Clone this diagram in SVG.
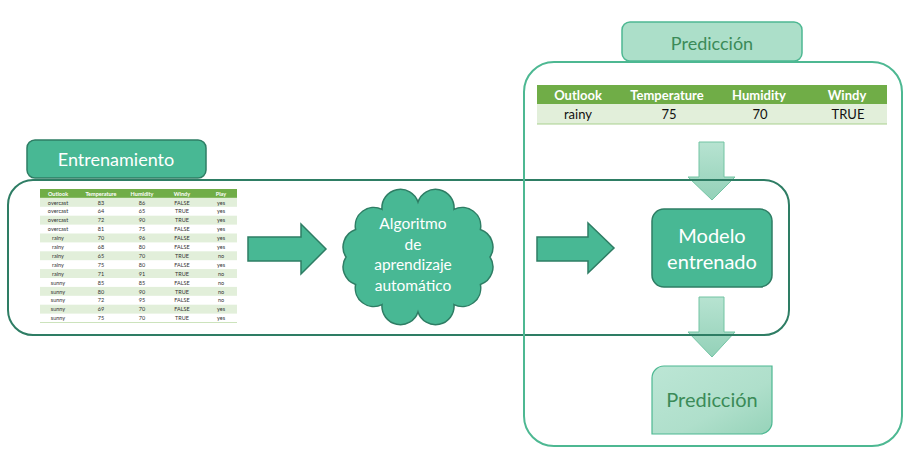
<svg xmlns="http://www.w3.org/2000/svg" width="911" height="465" viewBox="0 0 911 465">
<defs>
<style>
text{font-family:Lato,"Open Sans","Liberation Sans",sans-serif;}
.ctr{text-anchor:middle;}
.cont1{fill:none;stroke:#2e7d64;stroke-width:2;}
.cont2{fill:none;stroke:#4db892;stroke-width:2;}
.teal{fill:#48b894;stroke:#2e7d64;stroke-width:1.5;}
.lbl-w{fill:#ffffff;font-size:18px;}
.lbl-g{fill:#3b8b58;font-size:18px;}
.th{fill:#ffffff;font-weight:bold;font-size:5.5px;text-anchor:middle;}
.td{fill:#333333;font-size:5.5px;text-anchor:middle;}
.th2{fill:#ffffff;font-weight:bold;font-size:13px;text-anchor:middle;}
.td2{fill:#111111;font-size:13px;text-anchor:middle;}
.down{fill:url(#gDown);stroke:#72c4a3;stroke-width:1;}
</style>
<linearGradient id="gDown" x1="0" y1="0" x2="0" y2="1">
<stop offset="0" stop-color="#b7e3d1"/>
<stop offset="1" stop-color="#93d1b8"/>
</linearGradient>
<linearGradient id="gPred" x1="0" y1="0" x2="1" y2="1">
<stop offset="0" stop-color="#bce6d5"/>
<stop offset="0.6" stop-color="#afdfcb"/>
<stop offset="1" stop-color="#96d3b9"/>
</linearGradient>
</defs>

<g id="connectors">
<polygon class="teal" points="248,237 301,237 301,224 326,249 301,274 301,261 248,261"/>
<polygon class="teal" points="537,237 588,237 588,223 614,248 588,273 588,261 537,261"/>
<polygon class="down" points="699,142 724,142 724,177 735,177 712,200 688,177 699,177"/>
<polygon class="down" points="699,297 724,297 724,332 735,332 712,357 688,332 699,332"/>
</g>

<g id="entrenamiento-container">
<rect class="cont1" x="8" y="180" width="781" height="155" rx="25"/>
</g>

<g id="prediccion-container">
<rect class="cont2" x="524" y="62" width="378" height="384" rx="30"/>
</g>

<g id="entrenamiento-label">
<rect class="teal" x="27" y="140" width="179" height="38" rx="8"/>
<text class="lbl-w ctr" x="116" y="166">Entrenamiento</text>
</g>

<g id="prediccion-label">
<rect x="622" y="22" width="180" height="39" rx="8" fill="#acdfc9" stroke="#4db892" stroke-width="1.5"/>
<text class="lbl-g ctr" x="712" y="50">Predicción</text>
</g>

<g id="training-table">
<rect x="40" y="189" width="197" height="8.9" fill="#70ad47"/>
<rect x="40" y="197.9" width="197" height="8.9" fill="#e2efda"/>
<rect x="40" y="215.7" width="197" height="8.9" fill="#e2efda"/>
<rect x="40" y="233.5" width="197" height="8.9" fill="#e2efda"/>
<rect x="40" y="251.3" width="197" height="8.9" fill="#e2efda"/>
<rect x="40" y="269.1" width="197" height="8.9" fill="#e2efda"/>
<rect x="40" y="286.9" width="197" height="8.9" fill="#e2efda"/>
<rect x="40" y="304.7" width="197" height="8.9" fill="#e2efda"/>
<line x1="40" y1="322.5" x2="237" y2="322.5" stroke="#a9d08e" stroke-width="0.6"/>
<text class="th" x="58" y="195.6">Outlook</text><text class="th" x="101" y="195.6">Temperature</text><text class="th" x="142" y="195.6">Humidity</text><text class="th" x="182" y="195.6">Windy</text><text class="th" x="221" y="195.6">Play</text>
<text class="td" x="58" y="204.5">overcast</text><text class="td" x="101" y="204.5">83</text><text class="td" x="142" y="204.5">86</text><text class="td" x="182" y="204.5">FALSE</text><text class="td" x="221" y="204.5">yes</text>
<text class="td" x="58" y="213.4">overcast</text><text class="td" x="101" y="213.4">64</text><text class="td" x="142" y="213.4">65</text><text class="td" x="182" y="213.4">TRUE</text><text class="td" x="221" y="213.4">yes</text>
<text class="td" x="58" y="222.3">overcast</text><text class="td" x="101" y="222.3">72</text><text class="td" x="142" y="222.3">90</text><text class="td" x="182" y="222.3">TRUE</text><text class="td" x="221" y="222.3">yes</text>
<text class="td" x="58" y="231.2">overcast</text><text class="td" x="101" y="231.2">81</text><text class="td" x="142" y="231.2">75</text><text class="td" x="182" y="231.2">FALSE</text><text class="td" x="221" y="231.2">yes</text>
<text class="td" x="58" y="240.1">rainy</text><text class="td" x="101" y="240.1">70</text><text class="td" x="142" y="240.1">96</text><text class="td" x="182" y="240.1">FALSE</text><text class="td" x="221" y="240.1">yes</text>
<text class="td" x="58" y="249">rainy</text><text class="td" x="101" y="249">68</text><text class="td" x="142" y="249">80</text><text class="td" x="182" y="249">FALSE</text><text class="td" x="221" y="249">yes</text>
<text class="td" x="58" y="257.9">rainy</text><text class="td" x="101" y="257.9">65</text><text class="td" x="142" y="257.9">70</text><text class="td" x="182" y="257.9">TRUE</text><text class="td" x="221" y="257.9">no</text>
<text class="td" x="58" y="266.8">rainy</text><text class="td" x="101" y="266.8">75</text><text class="td" x="142" y="266.8">80</text><text class="td" x="182" y="266.8">FALSE</text><text class="td" x="221" y="266.8">yes</text>
<text class="td" x="58" y="275.7">rainy</text><text class="td" x="101" y="275.7">71</text><text class="td" x="142" y="275.7">91</text><text class="td" x="182" y="275.7">TRUE</text><text class="td" x="221" y="275.7">no</text>
<text class="td" x="58" y="284.6">sunny</text><text class="td" x="101" y="284.6">85</text><text class="td" x="142" y="284.6">85</text><text class="td" x="182" y="284.6">FALSE</text><text class="td" x="221" y="284.6">no</text>
<text class="td" x="58" y="293.5">sunny</text><text class="td" x="101" y="293.5">80</text><text class="td" x="142" y="293.5">90</text><text class="td" x="182" y="293.5">TRUE</text><text class="td" x="221" y="293.5">no</text>
<text class="td" x="58" y="302.4">sunny</text><text class="td" x="101" y="302.4">72</text><text class="td" x="142" y="302.4">95</text><text class="td" x="182" y="302.4">FALSE</text><text class="td" x="221" y="302.4">no</text>
<text class="td" x="58" y="311.3">sunny</text><text class="td" x="101" y="311.3">69</text><text class="td" x="142" y="311.3">70</text><text class="td" x="182" y="311.3">FALSE</text><text class="td" x="221" y="311.3">yes</text>
<text class="td" x="58" y="320.2">sunny</text><text class="td" x="101" y="320.2">75</text><text class="td" x="142" y="320.2">70</text><text class="td" x="182" y="320.2">TRUE</text><text class="td" x="221" y="320.2">yes</text>
</g>

<g id="algoritmo">
<path class="teal" d="M346,257 A18.5,18.5 0 0 1 355.6,229.5 A18.5,18.5 0 0 1 382,209.4 A18.5,18.5 0 0 1 418,202 A18.5,18.5 0 0 1 454,209.4 A18.5,18.5 0 0 1 480.4,229.5 A18.5,18.5 0 0 1 490,257 A18.5,18.5 0 0 1 480.4,284.5 A18.5,18.5 0 0 1 454,304.6 A18.5,18.5 0 0 1 418,312 A18.5,18.5 0 0 1 382,304.6 A18.5,18.5 0 0 1 355.6,284.5 A18.5,18.5 0 0 1 346,257 Z"/>
<text class="ctr" fill="#ffffff" font-size="15.5" x="413" y="229">Algoritmo</text>
<text class="ctr" fill="#ffffff" font-size="15.5" x="413" y="250">de</text>
<text class="ctr" fill="#ffffff" font-size="15.5" x="413" y="270">aprendizaje</text>
<text class="ctr" fill="#ffffff" font-size="15.5" x="413" y="291">automático</text>
</g>

<g id="prediction-table">
<rect x="537" y="85" width="350" height="19" fill="#70ad47"/>
<rect x="537" y="104" width="350" height="20" fill="#e2efda"/>
<line x1="537" y1="124" x2="887" y2="124" stroke="#a9d08e" stroke-width="1"/>
<text class="th2" x="578" y="100">Outlook</text>
<text class="th2" x="667" y="100">Temperature</text>
<text class="th2" x="759" y="100">Humidity</text>
<text class="th2" x="847" y="100">Windy</text>
<text class="td2" x="578" y="119">rainy</text>
<text class="td2" x="669" y="119">75</text>
<text class="td2" x="760" y="119">70</text>
<text class="td2" x="848" y="119">TRUE</text>
</g>

<g id="modelo">
<rect class="teal" x="652" y="209" width="120" height="78" rx="12"/>
<text class="ctr" fill="#ffffff" font-size="20" x="712" y="243">Modelo</text>
<text class="ctr" fill="#ffffff" font-size="20" x="712" y="269">entrenado</text>
</g>

<g id="prediccion-result">
<path d="M664,366 L772,366 L772,422 A12,12 0 0 1 760,434 L652,434 L652,378 A12,12 0 0 1 664,366 Z" fill="url(#gPred)" stroke="#4db892" stroke-width="1.2"/>
<text class="ctr" fill="#3b8b58" font-size="20" x="712" y="407">Predicción</text>
</g>
</svg>
